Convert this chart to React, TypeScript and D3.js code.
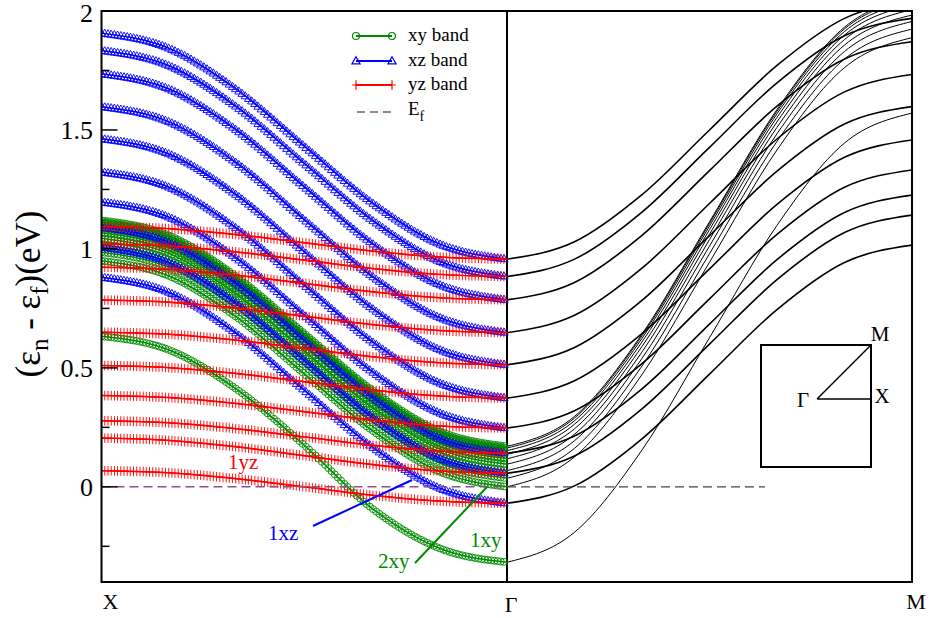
import React, { useEffect, useRef } from 'react';
import * as d3 from 'd3';

const W = 931;
const H = 618;
const FONT = "'Liberation Serif','Times New Roman',Times,serif";

// fractional positions of the sampled k-points along each path segment
const kFrac = [0, 1 / 6, 2 / 6, 3 / 6, 4 / 6, 5 / 6, 1];

// X -> Γ : xz subbands (eV)
const xzXG = [
  [1.907, 1.843, 1.670, 1.432, 1.195, 1.021, 0.957],
  [1.834, 1.770, 1.597, 1.359, 1.122, 0.948, 0.884],
  [1.736, 1.672, 1.499, 1.261, 1.024, 0.850, 0.786],
  [1.598, 1.534, 1.361, 1.123, 0.886, 0.712, 0.648],
  [1.463, 1.399, 1.226, 0.988, 0.751, 0.577, 0.513],
  [1.323, 1.259, 1.086, 0.848, 0.611, 0.437, 0.373],
  [1.197, 1.133, 0.960, 0.722, 0.485, 0.311, 0.247],
  [1.091, 1.027, 0.854, 0.616, 0.379, 0.205, 0.141],
  [1.007, 0.943, 0.770, 0.532, 0.295, 0.121, 0.057],
  [0.881, 0.817, 0.644, 0.406, 0.169, -0.005, -0.069],
];

// X -> Γ : yz subbands (eV)
const yzXG = [
  [1.094, 1.085, 1.060, 1.026, 0.991, 0.966, 0.957],
  [1.021, 1.012, 0.987, 0.953, 0.918, 0.893, 0.884],
  [0.923, 0.914, 0.889, 0.855, 0.820, 0.795, 0.786],
  [0.785, 0.776, 0.751, 0.717, 0.682, 0.657, 0.648],
  [0.650, 0.641, 0.616, 0.582, 0.547, 0.522, 0.513],
  [0.510, 0.501, 0.476, 0.442, 0.407, 0.382, 0.373],
  [0.384, 0.375, 0.350, 0.316, 0.281, 0.256, 0.247],
  [0.278, 0.269, 0.244, 0.210, 0.175, 0.150, 0.141],
  [0.205, 0.195, 0.168, 0.131, 0.094, 0.067, 0.057],
  [0.068, 0.059, 0.034, 0.000, -0.035, -0.060, -0.069],
];

// X -> Γ : xy subbands (eV)
const xyXG = [
  [0.633, 0.575, 0.410, 0.175, -0.090, -0.258, -0.317],
  [0.950, 0.886, 0.713, 0.475, 0.238, 0.064, 0.000],
  [0.986, 0.922, 0.749, 0.511, 0.274, 0.100, 0.036],
  [1.018, 0.954, 0.781, 0.543, 0.306, 0.132, 0.068],
  [1.045, 0.981, 0.808, 0.570, 0.333, 0.159, 0.095],
  [1.068, 1.004, 0.831, 0.593, 0.356, 0.182, 0.118],
  [1.087, 1.023, 0.850, 0.612, 0.375, 0.201, 0.137],
  [1.102, 1.038, 0.865, 0.627, 0.390, 0.216, 0.152],
  [1.113, 1.049, 0.876, 0.638, 0.401, 0.227, 0.163],
  [1.120, 1.056, 0.883, 0.645, 0.408, 0.234, 0.170],
];

// Γ -> M : xz/yz subbands (degenerate along the diagonal)
const xzyzGM = [
  [0.957, 1.030, 1.228, 1.500, 1.771, 1.969, 2.042],
  [0.884, 0.957, 1.155, 1.427, 1.698, 1.896, 1.969],
  [0.786, 0.859, 1.057, 1.329, 1.600, 1.798, 1.871],
  [0.648, 0.721, 0.919, 1.191, 1.462, 1.660, 1.733],
  [0.513, 0.586, 0.784, 1.056, 1.327, 1.525, 1.598],
  [0.373, 0.446, 0.644, 0.916, 1.187, 1.385, 1.458],
  [0.247, 0.320, 0.518, 0.790, 1.061, 1.259, 1.332],
  [0.141, 0.214, 0.412, 0.684, 0.955, 1.153, 1.226],
  [0.057, 0.130, 0.328, 0.600, 0.871, 1.069, 1.142],
  [-0.069, 0.004, 0.202, 0.474, 0.745, 0.943, 1.016],
];

// Γ -> M : xy subbands
const xyGM = [
  [-0.317, -0.191, 0.155, 0.627, 1.099, 1.445, 1.571],
  [0.000, 0.126, 0.472, 0.944, 1.416, 1.762, 1.888],
  [0.036, 0.162, 0.508, 0.980, 1.452, 1.798, 1.924],
  [0.068, 0.194, 0.540, 1.012, 1.484, 1.830, 1.956],
  [0.095, 0.221, 0.567, 1.039, 1.511, 1.857, 1.983],
  [0.118, 0.244, 0.590, 1.062, 1.534, 1.880, 2.006],
  [0.137, 0.263, 0.609, 1.081, 1.553, 1.899, 2.025],
  [0.152, 0.278, 0.624, 1.096, 1.568, 1.914, 2.040],
  [0.163, 0.289, 0.635, 1.107, 1.579, 1.925, 2.051],
  [0.170, 0.296, 0.642, 1.114, 1.586, 1.932, 2.058],
];

const yMajorTicks = [0, 0.5, 1, 1.5, 2];
const yMinorTicks = [-0.25, 0.25, 0.75, 1.25, 1.75];
const kLabels = ['X', 'Γ', 'M'];
const fermiLevel = 0;

const GREEN = '#008a00';
const BLUE = '#0000ff';
const RED = '#ff0000';
const PURPLE = '#8b4f8b';

type Sym = 'circle' | 'triangle' | 'plus';

function symPath(kind: Sym, x: number, y: number): string {
  if (kind === 'circle') {
    const r = 3.5;
    return `M${x + r},${y}A${r},${r} 0 1,1 ${x - r},${y}A${r},${r} 0 1,1 ${x + r},${y}Z`;
  }
  if (kind === 'triangle') {
    return `M${x},${y - 4.3}L${x + 4.1},${y + 2.9}L${x - 4.1},${y + 2.9}Z`;
  }
  return `M${x},${y - 4.8}V${y + 4.8}M${x - 3.8},${y}H${x + 3.8}`;
}

export default function App() {
  const ref = useRef<SVGSVGElement>(null);

  useEffect(() => {
    const svg = d3.select(ref.current as SVGSVGElement);
    svg.selectAll('*').remove();

    const left = 101.5, mid = 507, right = 912, top = 11, bottom = 582;
    const y = d3.scaleLinear().domain([-0.4, 2]).range([bottom, top]);
    const xL = d3.scaleLinear().domain([0, 1]).range([left, mid]);
    const xR = d3.scaleLinear().domain([0, 1]).range([mid, right]);

    svg.append('rect').attr('width', W).attr('height', H).attr('fill', '#fff');

    svg.append('defs').append('clipPath').attr('id', 'plotClip')
      .append('rect').attr('x', left).attr('y', top)
      .attr('width', right - left).attr('height', bottom - top);

    const plot = svg.append('g').attr('clip-path', 'url(#plotClip)');

    const lineOn = (xs: d3.ScaleLinear<number, number>) =>
      d3.line<number>().x((_, i) => xs(kFrac[i])).y(d => y(d)).curve(d3.curveMonotoneX);

    // Γ divider
    plot.append('line').attr('x1', mid).attr('x2', mid).attr('y1', top).attr('y2', bottom)
      .attr('stroke', '#000').attr('stroke-width', 2);

    // right panel: Γ -> M bands
    const gm = plot.append('g').attr('fill', 'none').attr('stroke', '#000');
    xyGM.forEach(b => {
      gm.append('path').attr('d', lineOn(xR)(b)).attr('stroke-width', 1);
    });
    xzyzGM.forEach(b => {
      gm.append('path').attr('d', lineOn(xR)(b)).attr('stroke-width', 1.6);
    });

    // left panel: X -> Γ bands with dense open symbols at each k-point
    const nK = 128;
    const kStep = (mid - left) / (nK - 1);
    const drawSet = (bands: number[][], color: string, kind: Sym) => {
      const g = plot.append('g');
      bands.forEach(b => {
        const p = g.append('path').attr('d', lineOn(xL)(b)).attr('fill', 'none')
          .attr('stroke', color).attr('stroke-width', 1.5);
        const node = p.node() as SVGPathElement;
        const L = node.getTotalLength();
        let next = left;
        let d = '';
        for (let l = 0; l <= L + 0.01; l += 0.25) {
          const pt = node.getPointAtLength(Math.min(l, L));
          if (pt.x >= next - 1e-6) {
            d += symPath(kind, pt.x, pt.y);
            next += kStep;
          }
        }
        g.append('path').attr('d', d).attr('fill', 'none').attr('stroke', color)
          .attr('stroke-width', 1).attr('stroke-opacity', 0.9);
      });
    };
    drawSet(xyXG, GREEN, 'circle');
    drawSet(xzXG, BLUE, 'triangle');
    drawSet(yzXG, RED, 'plus');

    // Fermi level
    plot.append('line').attr('x1', left).attr('x2', mid)
      .attr('y1', y(fermiLevel)).attr('y2', y(fermiLevel))
      .attr('stroke', PURPLE).attr('stroke-width', 1.5).attr('stroke-dasharray', '9,5');
    plot.append('line').attr('x1', mid).attr('x2', 765)
      .attr('y1', y(fermiLevel)).attr('y2', y(fermiLevel))
      .attr('stroke', '#444').attr('stroke-width', 1.3).attr('stroke-dasharray', '9,5');

    // frame
    svg.append('rect').attr('x', left).attr('y', top)
      .attr('width', right - left).attr('height', bottom - top)
      .attr('fill', 'none').attr('stroke', '#000').attr('stroke-width', 2);

    // y ticks
    const ax = svg.append('g').attr('stroke', '#000').attr('stroke-width', 1.5);
    yMajorTicks.forEach(v => {
      ax.append('line').attr('x1', left).attr('x2', left + 16).attr('y1', y(v)).attr('y2', y(v));
    });
    yMinorTicks.forEach(v => {
      ax.append('line').attr('x1', left).attr('x2', left + 8).attr('y1', y(v)).attr('y2', y(v));
    });
    const tl = svg.append('g').attr('font-family', FONT).attr('font-size', 26)
      .attr('text-anchor', 'end').attr('fill', '#000');
    yMajorTicks.forEach(v => {
      tl.append('text').attr('x', 93).attr('y', y(v) + (v === 2 ? 11 : 9)).text(d3.format('~g')(v));
    });

    // y label
    const yl = svg.append('text').attr('font-family', FONT).attr('font-size', 35)
      .attr('text-anchor', 'middle').attr('transform', 'translate(40,294) rotate(-90)');
    yl.append('tspan').text('(ε');
    yl.append('tspan').attr('dy', 8).attr('font-size', 25).text('n');
    yl.append('tspan').attr('dy', -8).text(' - ε');
    yl.append('tspan').attr('dy', 8).attr('font-size', 25).text('f');
    yl.append('tspan').attr('dy', -8).text(')(eV)');

    // k-point labels
    const kl = svg.append('g').attr('font-family', FONT).attr('font-size', 22)
      .attr('text-anchor', 'middle');
    [xL(0) + 9, xL(1) + 4, xR(1) + 4].forEach((px, i) => {
      kl.append('text').attr('x', px).attr('y', i === 1 ? 612 : 609).text(kLabels[i]);
    });

    // legend
    const lg = svg.append('g').attr('font-family', FONT).attr('font-size', 19);
    const legendRows: { label: string; color: string; kind: Sym | 'dash'; ly: number }[] = [
      { label: 'xy band', color: GREEN, kind: 'circle', ly: 36 },
      { label: 'xz band', color: BLUE, kind: 'triangle', ly: 61 },
      { label: 'yz band', color: RED, kind: 'plus', ly: 85 },
      { label: 'E', color: PURPLE, kind: 'dash', ly: 112 },
    ];
    legendRows.forEach(r => {
      if (r.kind === 'dash') {
        lg.append('line').attr('x1', 357).attr('x2', 393).attr('y1', r.ly).attr('y2', r.ly)
          .attr('stroke', r.color).attr('stroke-width', 1.5).attr('stroke-dasharray', '8,5');
        const t = lg.append('text').attr('x', 408).attr('y', r.ly + 3);
        t.append('tspan').text('E');
        t.append('tspan').attr('dy', 6).attr('font-size', 14).text('f');
      } else {
        lg.append('line').attr('x1', 356).attr('x2', 392).attr('y1', r.ly).attr('y2', r.ly)
          .attr('stroke', r.color).attr('stroke-width', 1.8);
        lg.append('path').attr('d', symPath(r.kind, 356, r.ly) + symPath(r.kind, 392, r.ly))
          .attr('fill', 'none').attr('stroke', r.color).attr('stroke-width', 1.2);
        lg.append('text').attr('x', 408).attr('y', r.ly + 5).text(r.label);
      }
    });

    // subband annotations
    const an = svg.append('g').attr('font-family', FONT).attr('font-size', 21);
    an.append('text').attr('x', 228).attr('y', 469).attr('fill', RED).text('1yz');
    an.append('text').attr('x', 268).attr('y', 540).attr('fill', BLUE).text('1xz');
    an.append('line').attr('x1', 313).attr('y1', 526).attr('x2', 412).attr('y2', 480)
      .attr('stroke', BLUE).attr('stroke-width', 2);
    an.append('text').attr('x', 378).attr('y', 568).attr('fill', GREEN).text('2xy');
    an.append('line').attr('x1', 415).attr('y1', 563).attr('x2', 487).attr('y2', 487)
      .attr('stroke', GREEN).attr('stroke-width', 2);
    an.append('text').attr('x', 470).attr('y', 547).attr('fill', GREEN).text('1xy');

    // Brillouin-zone inset
    const bz = svg.append('g');
    bz.append('rect').attr('x', 761).attr('y', 345).attr('width', 110).attr('height', 122)
      .attr('fill', 'none').attr('stroke', '#000').attr('stroke-width', 2);
    bz.append('path').attr('d', 'M817,399H871M817,399L871,345')
      .attr('fill', 'none').attr('stroke', '#000').attr('stroke-width', 1.5);
    const bzt = bz.append('g').attr('font-family', FONT).attr('font-size', 21);
    bzt.append('text').attr('x', 880).attr('y', 341).attr('text-anchor', 'middle').text('M');
    bzt.append('text').attr('x', 882).attr('y', 403).attr('text-anchor', 'middle').text('X');
    bzt.append('text').attr('x', 803).attr('y', 407).attr('text-anchor', 'middle').text('Γ');
  }, []);

  return (
    <svg
      ref={ref}
      width={W}
      height={H}
      style={{ position: 'absolute', left: 0, top: 0, display: 'block' }}
    />
  );
}
